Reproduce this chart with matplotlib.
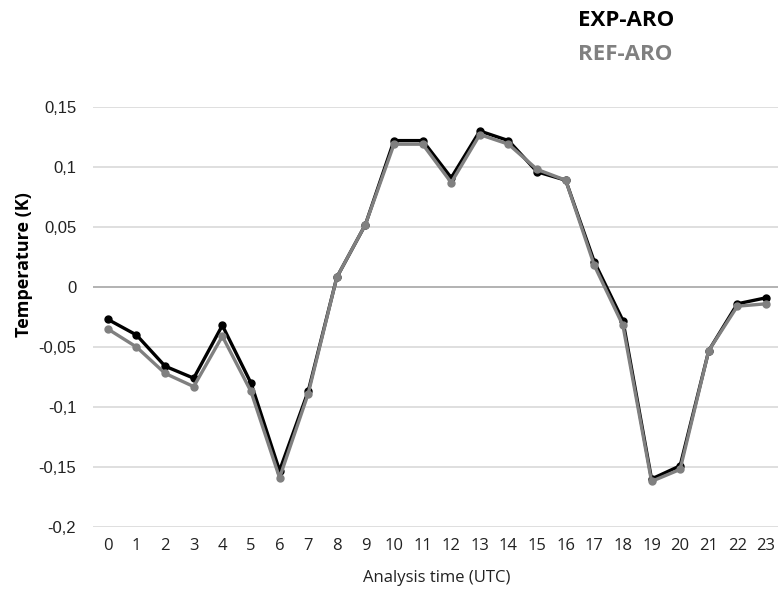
import numpy as np
import matplotlib.pyplot as plt

# Datos
hours = list(range(24))
exp_aro = [-0.027, -0.040, -0.066, -0.076, -0.032, -0.080, -0.153, -0.087,
           0.008, 0.052, 0.122, 0.122, 0.091, 0.130, 0.122, 0.096,
           0.089, 0.021, -0.028, -0.160, -0.149, -0.053, -0.014, -0.009]
ref_aro = [-0.035, -0.050, -0.072, -0.083, -0.041, -0.087, -0.159, -0.089,
           0.008, 0.052, 0.119, 0.119, 0.087, 0.127, 0.119, 0.098,
           0.089, 0.018, -0.032, -0.162, -0.152, -0.053, -0.016, -0.014]
yticks = [0.15, 0.1, 0.05, 0, -0.05, -0.1, -0.15, -0.2]
ytick_labels = ["0,15", "0,1", "0,05", "0", "-0,05", "-0,1", "-0,15", "-0,2"]

fig = plt.figure(figsize=(7.78, 5.89), dpi=100)
ax = fig.add_axes([93/778, 1 - 527/589, 1 - 93/778, 420/589])

# lineas de la cuadricula
for yv in yticks:
    col = "#a6a6a6" if yv == 0 else "#d9d9d9"
    ax.axhline(yv, color=col, lw=1.2, zorder=1)

ax.plot(hours, exp_aro, color="black", lw=2.4, marker="o", ms=5, zorder=3)
ax.plot(hours, ref_aro, color="#808080", lw=2.4, marker="o", ms=5, zorder=4)

ax.set_xlim(-0.52, 23.42)
ax.set_ylim(-0.2, 0.15)
ax.set_yticks(yticks)
ax.set_yticklabels(ytick_labels, fontsize=12, family="Liberation Sans", color="#222222")
ax.set_xticks(hours)
ax.set_xticklabels([str(h) for h in hours], fontsize=12, family="Open Sans", color="#222222")
ax.tick_params(length=0, pad=8)
ax.tick_params(axis="y", pad=12)
for s in ax.spines.values():
    s.set_visible(False)

fig.text(437/778, 1 - 578/589, "Analysis time (UTC)", ha="center", va="center",
         fontsize=12, family="Open Sans", color="#222222")
fig.text(24/778, 1 - 265/589, "Temperature (K)", rotation=90, ha="center", va="center",
         fontsize=13, fontweight="bold", family="Open Sans", color="black")

fig.text(578/778, 1 - 21/589, "EXP-ARO", ha="left", va="center",
         fontsize=16, fontweight="bold", family="Open Sans", color="black")
fig.text(578/778, 1 - 55/589, "REF-ARO", ha="left", va="center",
         fontsize=16, fontweight="bold", family="Open Sans", color="#808080")

fig.savefig("out.png", dpi=100)
